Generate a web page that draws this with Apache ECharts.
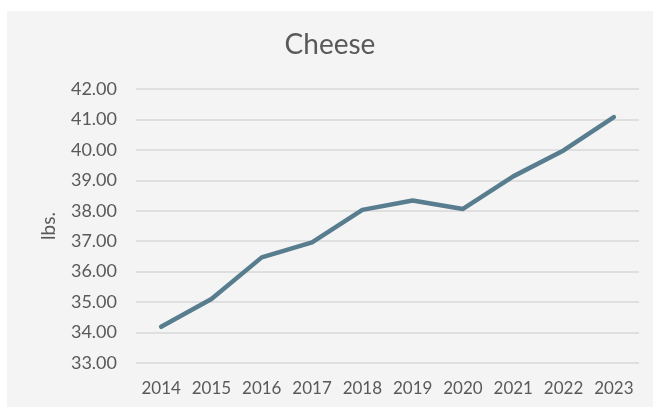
<!DOCTYPE html>
<html>
<head>
<meta charset="utf-8">
<script src="https://cdn.jsdelivr.net/npm/echarts@6/dist/echarts.min.js"></script>
<style>
  html, body { margin: 0; padding: 0; background: #fff; }
  #chart { position: absolute; left: 7px; top: 11px; width: 646px; height: 396px; }
</style>
</head>
<body>
<div id="chart"></div>
<script>
const years = ['2014', '2015', '2016', '2017', '2018', '2019', '2020', '2021', '2022', '2023'];
const cheese = [34.19, 35.10, 36.47, 36.96, 38.03, 38.34, 38.06, 39.13, 39.98, 41.08];

const textColor = '#595959';
const font = 'Lato';

const chart = echarts.init(document.getElementById('chart'));

const option = {
  backgroundColor: '#f4f4f4',
  animation: false,
  title: {
    text: 'Cheese',
    left: 'center',
    top: 15,
    textStyle: { fontFamily: font, fontSize: 28, fontWeight: 'normal', color: textColor }
  },
  grid: { left: 129, right: 14, top: 78, bottom: 44 },
  xAxis: {
    type: 'category',
    data: years,
    boundaryGap: true,
    axisLine: { show: false },
    axisTick: { show: false },
    axisLabel: { color: textColor, fontFamily: font, fontSize: 17, margin: 17, interval: 0 }
  },
  yAxis: {
    type: 'value',
    min: 33,
    max: 42,
    interval: 1,
    name: 'lbs.',
    nameLocation: 'middle',
    nameGap: 78,
    nameTextStyle: { color: textColor, fontFamily: font, fontSize: 19 },
    axisLine: { show: false },
    axisTick: { show: false },
    axisLabel: {
      color: textColor, fontFamily: font, fontSize: 18, margin: 19,
      formatter: v => v.toFixed(2)
    },
    splitLine: { lineStyle: { color: '#d9d9d9', width: 1.5 } }
  },
  series: [{
    type: 'line',
    data: cheese,
    symbol: 'none',
    lineStyle: { color: '#587d8f', width: 4.5, cap: 'round', join: 'round' }
  }]
};

chart.setOption(option);
</script>
</body>
</html>
